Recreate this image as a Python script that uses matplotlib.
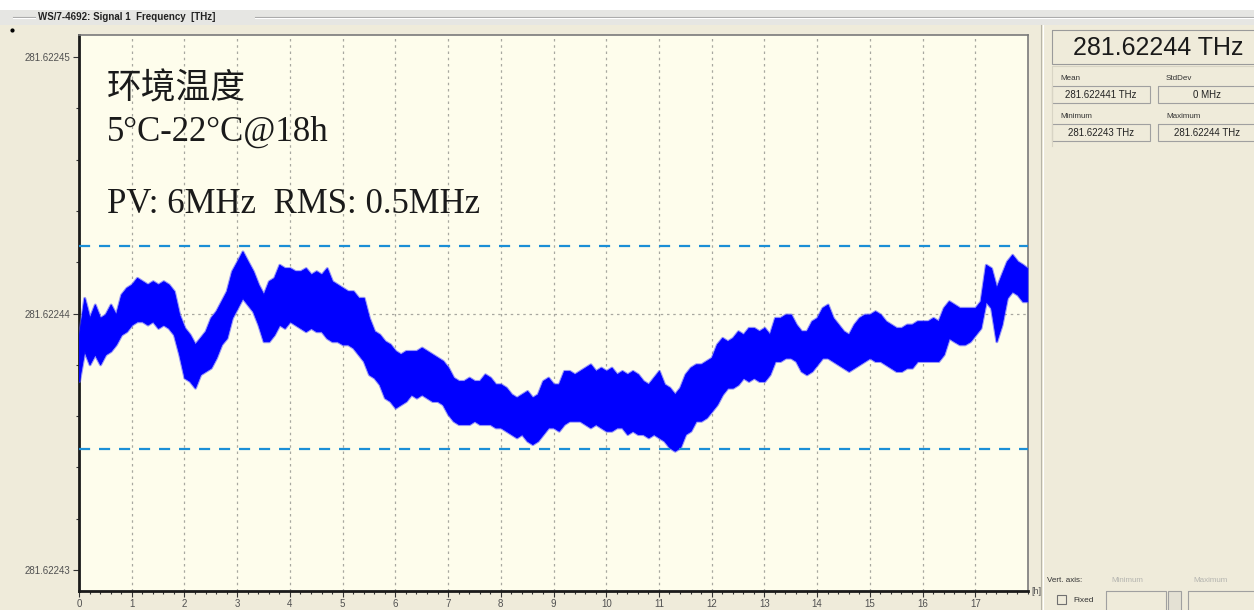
import matplotlib
matplotlib.use("Agg")
import matplotlib.pyplot as plt
from matplotlib.patches import Rectangle
from matplotlib.ticker import MultipleLocator, FixedLocator

plt.rcParams['font.family'] = ['Liberation Sans', 'DejaVu Sans']

W, H = 1254, 610

# time [h] and the noise band envelope of the trace,
# in MHz relative to 281.62244 THz
hours = [0.0, 0.1, 0.2, 0.3, 0.4, 0.5, 0.6, 0.7, 0.8, 0.9,
         1.0, 1.1, 1.2, 1.3, 1.4, 1.5, 1.6, 1.7, 1.8, 1.9,
         2.0, 2.1, 2.2, 2.3, 2.4, 2.5, 2.6, 2.7, 2.8, 2.9,
         3.0, 3.1, 3.2, 3.3, 3.4, 3.5, 3.6, 3.7, 3.8, 3.9,
         4.0, 4.1, 4.2, 4.3, 4.4, 4.5, 4.6, 4.7, 4.8, 4.9,
         5.0, 5.1, 5.2, 5.3, 5.4, 5.5, 5.6, 5.7, 5.8, 5.9,
         6.0, 6.1, 6.2, 6.3, 6.4, 6.5, 6.6, 6.7, 6.8, 6.9,
         7.0, 7.1, 7.2, 7.3, 7.4, 7.5, 7.6, 7.7, 7.8, 7.9,
         8.0, 8.1, 8.2, 8.3, 8.4, 8.5, 8.6, 8.7, 8.8, 8.9,
         9.0, 9.1, 9.2, 9.3, 9.4, 9.5, 9.6, 9.7, 9.8, 9.9,
         10.0, 10.1, 10.2, 10.3, 10.4, 10.5, 10.6, 10.7, 10.8, 10.9,
         11.0, 11.1, 11.2, 11.3, 11.4, 11.5, 11.6, 11.7, 11.8, 11.9,
         12.0, 12.1, 12.2, 12.3, 12.4, 12.5, 12.6, 12.7, 12.8, 12.9,
         13.0, 13.1, 13.2, 13.3, 13.4, 13.5, 13.6, 13.7, 13.8, 13.9,
         14.0, 14.1, 14.2, 14.3, 14.4, 14.5, 14.6, 14.7, 14.8, 14.9,
         15.0, 15.1, 15.2, 15.3, 15.4, 15.5, 15.6, 15.7, 15.8, 15.9,
         16.0, 16.1, 16.2, 16.3, 16.4, 16.5, 16.6, 16.7, 16.8, 16.9,
         17.0, 17.1, 17.2, 17.3, 17.4, 17.5, 17.6, 17.7, 17.8, 17.9,
         17.98]
upper_mhz = [-0.82, 0.61, -0.17, 0.35, -0.17, -0.04, 0.35, -0.04, 0.74, 1.00,
             1.13, 1.39, 1.26, 1.13, 1.26, 1.13, 1.26, 1.13, 0.87, -0.04,
             -0.56, -0.82, -1.20, -0.95, -0.69, -0.17, 0.09, 0.48, 0.87, 1.65,
             2.03, 2.42, 2.03, 1.65, 1.13, 0.74, 1.26, 1.39, 1.90, 1.77,
             1.77, 1.65, 1.65, 1.77, 1.52, 1.65, 1.52, 1.77, 1.26, 1.13,
             1.00, 0.87, 0.87, 0.61, 0.61, -0.17, -0.69, -0.82, -1.08, -1.20,
             -1.46, -1.59, -1.46, -1.46, -1.46, -1.33, -1.46, -1.59, -1.72, -1.85,
             -2.11, -2.50, -2.63, -2.63, -2.50, -2.63, -2.63, -2.37, -2.50, -2.76,
             -2.76, -2.89, -3.15, -3.28, -3.15, -3.02, -3.28, -3.15, -2.63, -2.50,
             -2.76, -2.76, -2.24, -2.24, -2.37, -2.24, -2.11, -1.98, -2.24, -2.11,
             -2.24, -2.11, -2.37, -2.24, -2.37, -2.24, -2.37, -2.63, -2.76, -2.50,
             -2.24, -2.76, -2.89, -3.15, -2.89, -2.37, -2.11, -1.98, -1.98, -1.85,
             -1.72, -1.20, -0.95, -1.08, -0.95, -0.69, -0.82, -0.56, -0.56, -0.69,
             -0.56, -0.82, -0.17, -0.17, -0.04, -0.04, -0.43, -0.69, -0.69, -0.30,
             -0.17, 0.22, 0.35, -0.17, -0.43, -0.69, -0.82, -0.43, -0.17, -0.04,
             -0.04, 0.09, -0.04, -0.30, -0.43, -0.56, -0.56, -0.43, -0.43, -0.30,
             -0.30, -0.30, -0.17, -0.30, 0.22, 0.48, 0.35, 0.22, 0.22, 0.22,
             0.22, 0.48, 1.90, 1.77, 1.00, 1.52, 2.03, 2.29, 2.03, 1.90,
             1.77]
lower_mhz = [-2.63, -1.46, -1.98, -1.59, -1.98, -1.59, -1.46, -1.20, -0.82, -0.69,
             -0.43, -0.30, -0.30, -0.43, -0.30, -0.56, -0.43, -0.56, -0.82, -1.59,
             -2.50, -2.63, -2.89, -2.37, -2.24, -2.11, -1.72, -1.20, -0.95, -0.17,
             0.22, 0.61, 0.35, 0.09, -0.43, -1.08, -1.08, -0.82, -0.43, -0.56,
             -0.30, -0.43, -0.56, -0.69, -0.56, -0.69, -0.69, -0.95, -1.08, -1.08,
             -1.20, -1.20, -1.33, -1.59, -1.85, -2.37, -2.50, -2.76, -3.28, -3.41,
             -3.67, -3.54, -3.41, -3.15, -3.28, -3.15, -3.28, -3.41, -3.41, -3.54,
             -3.92, -4.18, -4.31, -4.31, -4.31, -4.18, -4.31, -4.31, -4.31, -4.44,
             -4.44, -4.57, -4.70, -4.83, -4.70, -4.96, -5.09, -4.96, -4.70, -4.44,
             -4.44, -4.57, -4.31, -4.18, -4.18, -4.18, -4.31, -4.44, -4.31, -4.44,
             -4.57, -4.57, -4.44, -4.44, -4.70, -4.57, -4.70, -4.70, -4.83, -4.70,
             -4.83, -4.96, -5.22, -5.35, -5.22, -4.70, -4.57, -4.18, -4.18, -4.05,
             -3.80, -3.54, -3.15, -2.89, -2.89, -2.76, -2.50, -2.63, -2.50, -2.63,
             -2.63, -2.37, -1.85, -1.85, -1.72, -1.72, -1.85, -2.24, -2.37, -2.24,
             -1.98, -1.72, -1.72, -1.85, -1.98, -2.11, -2.24, -2.11, -1.98, -1.85,
             -1.72, -1.85, -1.85, -1.98, -2.11, -2.24, -2.24, -2.11, -2.11, -1.85,
             -1.85, -1.85, -1.85, -1.85, -1.59, -0.95, -1.08, -1.20, -1.20, -1.08,
             -0.82, -0.56, 0.48, 0.22, -1.08, -0.43, 0.61, 0.87, 0.74, 0.48,
             0.48]
limit_lines_mhz = [2.63, -5.28]

ytick_mhz = [10, 0, -10]
ytick_labels = ["281.62245", "281.62244", "281.62243"]
xtick_hours = list(range(18))

notes = ["环境温度", "5°C-22°C@18h", "PV: 6MHz  RMS: 0.5MHz"]
readout = "281.62244 THz"
stat_names = ["Mean", "StdDev", "Minimum", "Maximum"]
stat_values = ["281.622441 THz", "0 MHz", "281.62243 THz", "281.62244 THz"]

BEIGE = '#efebda'
PLOT_BG = '#fefdec'

fig = plt.figure(figsize=(W / 100, H / 100), dpi=100)
fig.patch.set_facecolor(BEIGE)

# background layer in pixel coords for the window chrome
bg = fig.add_axes([0, 0, 1, 1], zorder=0)
bg.set_xlim(0, W)
bg.set_ylim(H, 0)
bg.axis('off')

bg.add_patch(Rectangle((0, 0), W, 10, color='white', lw=0))
bg.add_patch(Rectangle((0, 10), W, 15, color='#e6e6e3', lw=0))
for x0, x1 in [(13, 35), (255, W)]:
    bg.plot([x0, x1], [16.5, 16.5], color='#a8a8a8', lw=0.8)
    bg.plot([x0, x1], [18, 18], color='white', lw=0.8)
bg.text(38, 17.5, "WS/7-4692: Signal 1  Frequency  [THz]", fontsize=7,
        fontweight='bold', color='#222222', va='center')
bg.plot([12], [30], marker='o', ms=2, color='black')

# right panel
bg.plot([1041, 1041], [25, H], color='#b8b5a8', lw=0.8)
bg.plot([1043, 1043], [25, H], color='white', lw=0.8)
bg.add_patch(Rectangle((1052, 30), 205, 34, fill=False, ec='#9a9a9a', lw=0.8))
bg.text(1158, 48, readout, fontsize=18, color='#1a1a1a', ha='center', va='center')
bg.plot([1052, 1052, W], [146, 66, 66], color='#d8d4c4', lw=0.8)

box_x = [1052, 1158, 1052, 1158]
box_y = [86, 86, 124, 124]
for name, value, bx, by in zip(stat_names, stat_values, box_x, box_y):
    bg.text(bx + 8, by - 8, name, fontsize=5.8, color='#333333', va='center')
    bg.add_patch(Rectangle((bx, by), 98, 17, fill=False, ec='#a0a0a0', lw=0.8))
    bg.text(bx + 49, by + 8.5, value, fontsize=7, color='#222222',
            ha='center', va='center')

bg.text(1047, 580, "Vert. axis:", fontsize=5.8, color='#333333', va='center')
bg.text(1111, 580, "Minimum", fontsize=5.8, color='#b5b5b0', va='center')
bg.text(1193, 580, "Maximum", fontsize=5.8, color='#b5b5b0', va='center')
bg.add_patch(Rectangle((1057, 595), 9, 9, fill=False, ec='#707070', lw=0.8))
bg.text(1073, 600, "Fixed", fontsize=6, color='#333333', va='center')
bg.add_patch(Rectangle((1106, 591), 60, 22, fill=False, ec='#a0a0a0', lw=0.8))
bg.add_patch(Rectangle((1168, 591), 13, 22, fc='#e4e1d4', ec='#a0a0a0', lw=0.8))
bg.add_patch(Rectangle((1188, 591), 70, 22, fill=False, ec='#a0a0a0', lw=0.8))

# plot area
left, right, top, bottom = 79, 1028, 35, 591
ax = fig.add_axes([left / W, 1 - bottom / H, (right - left) / W, (bottom - top) / H], zorder=1)
ax.set_facecolor(PLOT_BG)
ax.set_xlim(0, 18)
ax.set_ylim(-10.82, 10.86)

ax.xaxis.set_major_locator(FixedLocator(xtick_hours))
ax.xaxis.set_minor_locator(MultipleLocator(0.2))
ax.yaxis.set_major_locator(FixedLocator(ytick_mhz))
ax.yaxis.set_minor_locator(MultipleLocator(2))
ax.set_yticklabels(ytick_labels)
ax.tick_params(which='both', direction='out', color='#333333', labelsize=7,
               labelcolor='#505050', pad=2)
ax.tick_params(which='major', length=4, width=0.8)
ax.tick_params(which='minor', length=2.5, width=0.8)

for side in ['left', 'bottom']:
    ax.spines[side].set_color('#1a1a1a')
    ax.spines[side].set_linewidth(2)
for side in ['top', 'right']:
    ax.spines[side].set_color('#7a7a7a')
    ax.spines[side].set_linewidth(1.2)

ax.grid(axis='x', which='major', color='#a8a8a0', linestyle=(0, (2, 3)), lw=0.9)
ax.axhline(0, color='#a8a8a0', linestyle=(0, (2, 3)), lw=0.9)

# frequency trace: dense noise band, with a softer fringe at the edges
ax.fill_between(hours, lower_mhz, upper_mhz, color='#3a3aff', ec='#5050ff', lw=2.2,
                alpha=0.6, zorder=3)
ax.fill_between(hours, lower_mhz, upper_mhz, color='#0000ff', ec='#0000ff', lw=0.6,
                zorder=3)
for v in limit_lines_mhz:
    ax.axhline(v, color='#1b8fd6', linestyle=(0, (5, 4)), lw=1.6, zorder=4)

ax.text(0.0295, 0.903, notes[0], transform=ax.transAxes, fontsize=25,
        family=['Noto Sans CJK SC', 'DejaVu Sans'], color='#1a1a1a', va='center')
ax.text(0.0295, 0.826, notes[1], transform=ax.transAxes, fontsize=25,
        family=['Liberation Serif', 'DejaVu Serif'], color='#1a1a1a', va='center')
ax.text(0.0295, 0.696, notes[2], transform=ax.transAxes, fontsize=25,
        family=['Liberation Serif', 'DejaVu Serif'], color='#1a1a1a', va='center')

fig.text(1031 / W, 1 - 592 / H, "[h]", fontsize=6.5, color='#505050', va='center')

fig.savefig("out.png", dpi=100, facecolor=fig.get_facecolor())
